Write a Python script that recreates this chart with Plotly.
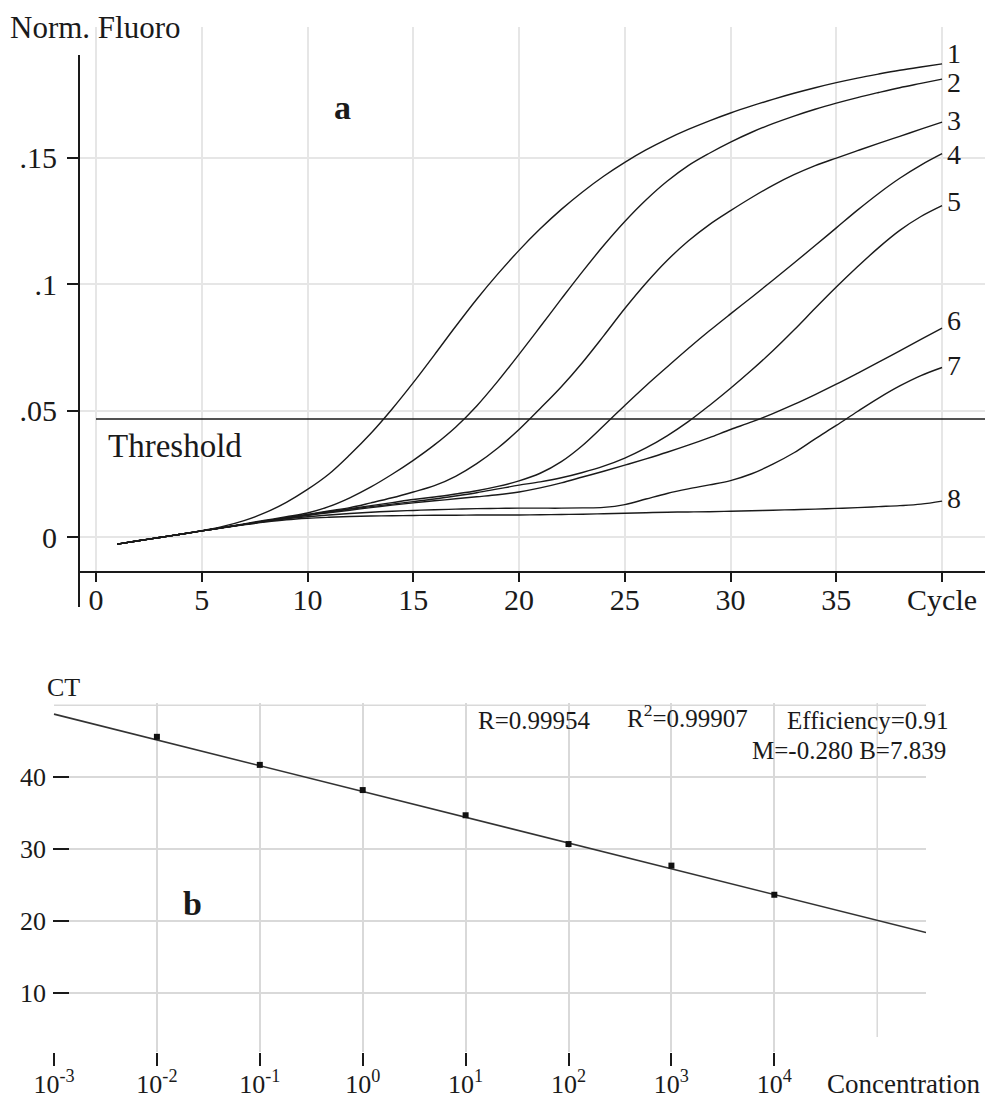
import plotly.graph_objects as go

# ---------------- data: amplification curves (panel a) ----------------
cycles = list(range(1, 41))

curve_1 = [-0.0028, -0.0015, -0.0002, 0.0011, 0.0025, 0.0042, 0.0065, 0.0096, 0.0137, 0.0188,
           0.0248, 0.0325, 0.0410, 0.0506, 0.0610, 0.0720, 0.0832, 0.0940, 0.1040, 0.1133,
           0.1218, 0.1295, 0.1364, 0.1426, 0.1481, 0.1530, 0.1573, 0.1611, 0.1645, 0.1676,
           0.1704, 0.1730, 0.1754, 0.1776, 0.1796, 0.1814, 0.1830, 0.1845, 0.1858, 0.1870]
curve_2 = [-0.0028, -0.0015, -0.0002, 0.0011, 0.0024, 0.0038, 0.0052, 0.0066, 0.0080, 0.0095,
           0.0120, 0.0155, 0.0198, 0.0248, 0.0303, 0.0364, 0.0434, 0.0518, 0.0616, 0.0722,
           0.0831, 0.0941, 0.1049, 0.1152, 0.1247, 0.1332, 0.1406, 0.1468, 0.1517, 0.1561,
           0.1600, 0.1634, 0.1664, 0.1691, 0.1715, 0.1737, 0.1757, 0.1776, 0.1793, 0.1810]
curve_3 = [-0.0028, -0.0015, -0.0002, 0.0011, 0.0024, 0.0037, 0.0050, 0.0063, 0.0076, 0.0089,
           0.0103, 0.0116, 0.0135, 0.0155, 0.0178, 0.0203, 0.0240, 0.0290, 0.0352, 0.0425,
           0.0508, 0.0594, 0.0690, 0.0795, 0.0903, 0.1003, 0.1093, 0.1170, 0.1235, 0.1290,
           0.1342, 0.1390, 0.1432, 0.1468, 0.1498, 0.1527, 0.1556, 0.1584, 0.1612, 0.1640]
curve_4 = [-0.0028, -0.0015, -0.0002, 0.0011, 0.0024, 0.0037, 0.0050, 0.0063, 0.0076, 0.0088,
           0.0100, 0.0112, 0.0124, 0.0136, 0.0148, 0.0158, 0.0170, 0.0183, 0.0200, 0.0222,
           0.0252, 0.0298, 0.0362, 0.0440, 0.0520, 0.0598, 0.0672, 0.0745, 0.0815, 0.0882,
           0.0948, 0.1015, 0.1083, 0.1152, 0.1222, 0.1292, 0.1358, 0.1418, 0.1470, 0.1515]
curve_5 = [-0.0028, -0.0015, -0.0002, 0.0011, 0.0024, 0.0037, 0.0050, 0.0063, 0.0075, 0.0087,
           0.0098, 0.0110, 0.0120, 0.0130, 0.0140, 0.0150, 0.0162, 0.0175, 0.0190, 0.0205,
           0.0218, 0.0234, 0.0255, 0.0280, 0.0312, 0.0352, 0.0400, 0.0456, 0.0520, 0.0588,
           0.0660, 0.0736, 0.0818, 0.0904, 0.0988, 0.1068, 0.1144, 0.1212, 0.1267, 0.1310]
curve_6 = [-0.0028, -0.0015, -0.0002, 0.0011, 0.0024, 0.0037, 0.0050, 0.0062, 0.0074, 0.0086,
           0.0096, 0.0106, 0.0116, 0.0126, 0.0135, 0.0143, 0.0151, 0.0159, 0.0167, 0.0178,
           0.0194, 0.0214, 0.0237, 0.0260, 0.0284, 0.0309, 0.0335, 0.0363, 0.0393, 0.0425,
           0.0455, 0.0488, 0.0524, 0.0563, 0.0604, 0.0647, 0.0691, 0.0736, 0.0781, 0.0826]
curve_7 = [-0.0028, -0.0015, -0.0002, 0.0011, 0.0024, 0.0037, 0.0050, 0.0062, 0.0072, 0.0080,
           0.0087, 0.0093, 0.0098, 0.0102, 0.0105, 0.0108, 0.0110, 0.0112, 0.0113, 0.0114,
           0.0114, 0.0114, 0.0115, 0.0117, 0.0128, 0.0150, 0.0172, 0.0190, 0.0206, 0.0223,
           0.0250, 0.0288, 0.0333, 0.0388, 0.0441, 0.0496, 0.0549, 0.0597, 0.0638, 0.0670]
curve_8 = [-0.0028, -0.0015, -0.0002, 0.0011, 0.0024, 0.0036, 0.0048, 0.0059, 0.0068, 0.0074,
           0.0078, 0.0081, 0.0083, 0.0084, 0.0085, 0.0086, 0.0086, 0.0087, 0.0087, 0.0087,
           0.0088, 0.0089, 0.0090, 0.0092, 0.0094, 0.0096, 0.0098, 0.0099, 0.0100, 0.0102,
           0.0104, 0.0106, 0.0108, 0.0110, 0.0113, 0.0116, 0.0120, 0.0124, 0.0130, 0.0142]

curves = [curve_1, curve_2, curve_3, curve_4, curve_5, curve_6, curve_7, curve_8]
curve_names = ["1", "2", "3", "4", "5", "6", "7", "8"]
threshold = 0.0466

cycle_ticks = [0, 5, 10, 15, 20, 25, 30, 35, 40]
cycle_ticktext = ["0", "5", "10", "15", "20", "25", "30", "35", "Cycle"]
fluoro_ticks = [0, 0.05, 0.10, 0.15]
fluoro_ticktext = ["0", ".05", ".1", ".15"]

# ---------------- data: standard curve (panel b) ----------------
concentration = [1e-2, 1e-1, 1e0, 1e1, 1e2, 1e3, 1e4]
ct_values = [45.6, 41.7, 38.2, 34.7, 30.7, 27.7, 23.65]
fit_conc = [1e-3, 10 ** 5.474]
fit_ct = [48.75, 18.4]

conc_ticks = [1e-3, 1e-2, 1e-1, 1e0, 1e1, 1e2, 1e3, 1e4]
conc_ticktext = ["10<sup>-3</sup>", "10<sup>-2</sup>", "10<sup>-1</sup>", "10<sup>0</sup>",
                 "10<sup>1</sup>", "10<sup>2</sup>", "10<sup>3</sup>", "10<sup>4</sup>"]
ct_ticks = [10, 20, 30, 40]
ct_ticktext = ["10", "20", "30", "40"]

stats_r = "R=0.99954"
stats_r2 = "R<sup>2</sup>=0.99907"
stats_eff = "Efficiency=0.91"
stats_mb = "M=-0.280 B=7.839"

# ---------------- layout helpers ----------------
W, H = 985, 1098
SERIF = "Liberation Serif, Times New Roman, serif"
INK = "#1a1a1a"
GRID_A = "#e6e6e6"
GRID_B = "#d9d9d9"


def px_x(x):
    return x / W


def px_y(y):
    return 1 - y / H


fig = go.Figure()

# amplification curves
for ys in curves:
    fig.add_trace(go.Scatter(x=cycles, y=ys, mode="lines",
                             line=dict(color=INK, width=1.4, shape="spline", smoothing=1.0),
                             xaxis="x", yaxis="y", hoverinfo="skip", showlegend=False))

# threshold line from cycle 0 to the right edge
fig.add_trace(go.Scatter(x=[0, 42.1], y=[threshold, threshold], mode="lines",
                         line=dict(color=INK, width=1.5),
                         xaxis="x", yaxis="y", showlegend=False, hoverinfo="skip"))

# curve number labels at the end of each curve
label_shift = [10, -3, 2, -1, 4, 8, 2, 3]
annotations = []
for name, ys, dy in zip(curve_names, curves, label_shift):
    annotations.append(dict(x=40.2, y=ys[-1], xref="x", yref="y", text=name,
                            showarrow=False, xanchor="left", yanchor="middle", yshift=dy,
                            borderpad=0,
                            font=dict(family=SERIF, size=28, color=INK)))

# standard curve: fit line and points
fig.add_trace(go.Scatter(x=fit_conc, y=fit_ct, mode="lines",
                         line=dict(color="#333333", width=1.6),
                         xaxis="x2", yaxis="y2", showlegend=False, hoverinfo="skip"))
fig.add_trace(go.Scatter(x=concentration, y=ct_values, mode="markers",
                         marker=dict(symbol="square", size=6, color="#111111"),
                         xaxis="x2", yaxis="y2", showlegend=False, hoverinfo="skip"))


def note(text, x, y, size, anchor="left", bold=False):
    t = f"<b>{text}</b>" if bold else text
    annotations.append(dict(x=px_x(x), y=px_y(y), xref="paper", yref="paper", text=t,
                            showarrow=False, xanchor=anchor, yanchor="middle", borderpad=0,
                            font=dict(family=SERIF, size=size, color=INK)))


note("Norm. Fluoro", 9, 28, 31)
note("a", 342, 107, 34, anchor="center", bold=True)
note("Threshold", 107, 446, 33)
note("CT", 46, 687, 26)
note("b", 192, 903, 34, anchor="center", bold=True)
note(stats_r, 477, 720, 25)
note(stats_r2, 749, 716, 25, anchor="right")
note(stats_eff, 950, 720, 25, anchor="right")
note(stats_mb, 947, 751, 25, anchor="right")
note("Concentration", 826, 1084, 27)

shapes = [
    # vertical axis line of panel a, running past the cycle axis
    dict(type="line", xref="paper", yref="paper", x0=px_x(79), x1=px_x(79),
         y0=px_y(55), y1=px_y(607), line=dict(color=INK, width=2)),
    # top grid line of panel b
    dict(type="line", xref="x2", yref="y2", x0=1e-3, x1=10 ** 5.474, y0=50, y1=50,
         line=dict(color=GRID_B, width=1.5), layer="below"),
    # vertical grid line at 1e5 in panel b
    dict(type="line", xref="x2", yref="paper", x0=1e5, x1=1e5,
         y0=px_y(1037), y1=px_y(703), line=dict(color=GRID_B, width=1.5), layer="below"),
]

tick_font = dict(family=SERIF, size=30, color=INK)
tick_font_b = dict(family=SERIF, size=26, color=INK)

fig.update_layout(
    width=W, height=H,
    margin=dict(l=0, r=0, t=0, b=0, pad=0, autoexpand=False),
    paper_bgcolor="white", plot_bgcolor="white",
    showlegend=False,
    xaxis=dict(domain=[px_x(79), 1.0], range=[-0.804, 42.03],
               tickvals=cycle_ticks, ticktext=cycle_ticktext, tickfont=tick_font,
               ticks="outside", ticklen=9, tickwidth=1.5, tickcolor=INK,
               ticklabelstandoff=-8,
               showline=True, linecolor=INK, linewidth=2,
               showgrid=True, gridcolor=GRID_A, gridwidth=1.5, zeroline=False,
               anchor="y", automargin=False, fixedrange=True),
    yaxis=dict(domain=[px_y(571), px_y(27)], range=[-0.01344, 0.2016],
               tickvals=fluoro_ticks, ticktext=fluoro_ticktext, tickfont=tick_font,
               ticks="outside", ticklen=11, tickwidth=1.5, tickcolor=INK,
               ticklabelstandoff=4,
               showline=False, showgrid=True, gridcolor=GRID_A, gridwidth=1.5,
               zeroline=False, anchor="x", automargin=False, fixedrange=True),
    xaxis2=dict(domain=[px_x(53), px_x(926)], type="log", range=[-3.0097, 5.474],
                tickvals=conc_ticks, ticktext=conc_ticktext, tickfont=tick_font_b,
                ticks="outside", ticklen=13, tickwidth=2, tickcolor=INK,
                ticklabelstandoff=-4,
                showline=False, showgrid=True, gridcolor=GRID_B, gridwidth=1.5,
                zeroline=False, anchor="y2", automargin=False, fixedrange=True),
    yaxis2=dict(domain=[px_y(1052), px_y(703)], range=[1.8, 50.3],
                tickvals=ct_ticks, ticktext=ct_ticktext, tickfont=tick_font_b,
                ticks="inside", ticklen=16, tickwidth=2, tickcolor=INK,
                ticklabelstandoff=6,
                showline=False, showgrid=True, gridcolor=GRID_B, gridwidth=1.5,
                zeroline=False, anchor="x2", automargin=False, fixedrange=True),
    annotations=annotations,
    shapes=shapes,
)

fig.write_html("out.html")
